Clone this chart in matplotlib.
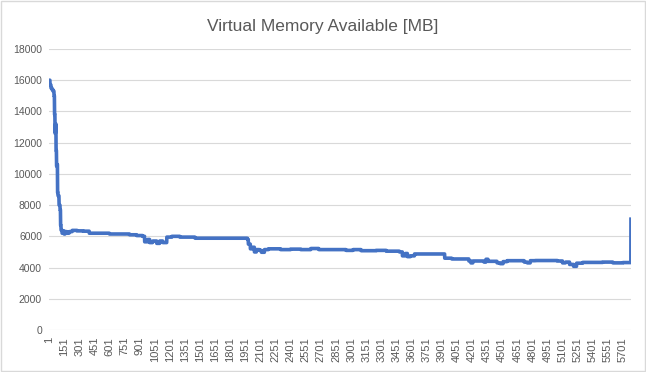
import numpy as np
import matplotlib
matplotlib.use("Agg")
import matplotlib.pyplot as plt
from matplotlib.patches import Rectangle

# step segments: sample index where a level starts, and the level (MB)
seg_start = [1, 10, 20, 30, 40, 50, 55, 60, 65, 70, 75, 80, 85, 90, 100, 110, 115, 120,
             130, 140, 150, 160, 180, 200, 230, 280, 340, 400, 600, 800, 870, 930, 950,
             980, 1000, 1030, 1070, 1100, 1130, 1170, 1220, 1300, 1450, 1970, 1980, 2000,
             2020, 2040, 2060, 2090, 2110, 2140, 2180, 2300, 2400, 2500, 2600, 2680, 2800,
             2950, 3020, 3100, 3250, 3350, 3480, 3510, 3540, 3560, 3590, 3630, 3930, 4000,
             4170, 4190, 4210, 4320, 4340, 4360, 4450, 4480, 4510, 4550, 4720, 4750, 4780,
             4830, 5050, 5100, 5130, 5170, 5210, 5240, 5300, 5500, 5600, 5700, 5780]
seg_value = [16000, 15700, 15500, 15400, 15300, 15000, 13800, 12600, 13200, 11500, 10500,
             10600, 8800, 8600, 8000, 7700, 6700, 6400, 6200, 6350, 6150, 6300, 6200, 6300,
             6380, 6350, 6330, 6200, 6150, 6100, 6050, 6000, 5650, 5800, 5600, 5700, 5550,
             5700, 5600, 5950, 6000, 5950, 5880, 5800, 5500, 5200, 5300, 5000, 5150, 5100,
             4980, 5150, 5200, 5150, 5180, 5150, 5220, 5150, 5150, 5100, 5150, 5080, 5100,
             5050, 5000, 4750, 4900, 4700, 4750, 4870, 4600, 4550, 4420, 4300, 4420, 4350,
             4530, 4400, 4300, 4250, 4380, 4440, 4350, 4300, 4440, 4450, 4420, 4300, 4350,
             4200, 4080, 4280, 4330, 4350, 4300, 4320, 7100]
n_samples = 5780

x_ticks = list(range(1, 5702, 150))
y_ticks = list(range(0, 18001, 2000))

lengths = np.diff(seg_start + [n_samples + 1])
values = np.repeat(seg_value, lengths)
idx = np.arange(1, n_samples + 1)

fig = plt.figure(figsize=(6.46, 3.72), dpi=100)
fig.patches.append(Rectangle((0.002, 0.003), 0.996, 0.994, transform=fig.transFigure,
                             fill=False, edgecolor="#D9D9D9", lw=1))
ax = fig.add_axes([49 / 646, 1 - 330 / 372, 582 / 646, 281 / 372])

ax.plot(idx, values, color="#4472C4", lw=2.6, solid_joinstyle="round")

ax.set_xlim(0.5, n_samples + 0.5)
ax.set_ylim(0, 18000)
ax.set_xticks(x_ticks)
ax.set_xticklabels([str(t) for t in x_ticks], rotation=90, fontsize=8,
                   family="Liberation Sans", color="#595959")
ax.set_yticks(y_ticks)
ax.set_yticklabels([str(t) for t in y_ticks], fontsize=7.5,
                   family="Liberation Sans", color="#595959")
ax.tick_params(length=0, pad=5)
ax.grid(axis="y", color="#D9D9D9", lw=0.8)
ax.set_axisbelow(True)
for s in ax.spines.values():
    s.set_visible(False)

fig.text(0.5, 1 - 27 / 372, "Virtual Memory Available [MB]", ha="center", va="center",
         fontsize=12.5, family="Liberation Sans", color="#595959")

fig.savefig("out.png", dpi=100)
